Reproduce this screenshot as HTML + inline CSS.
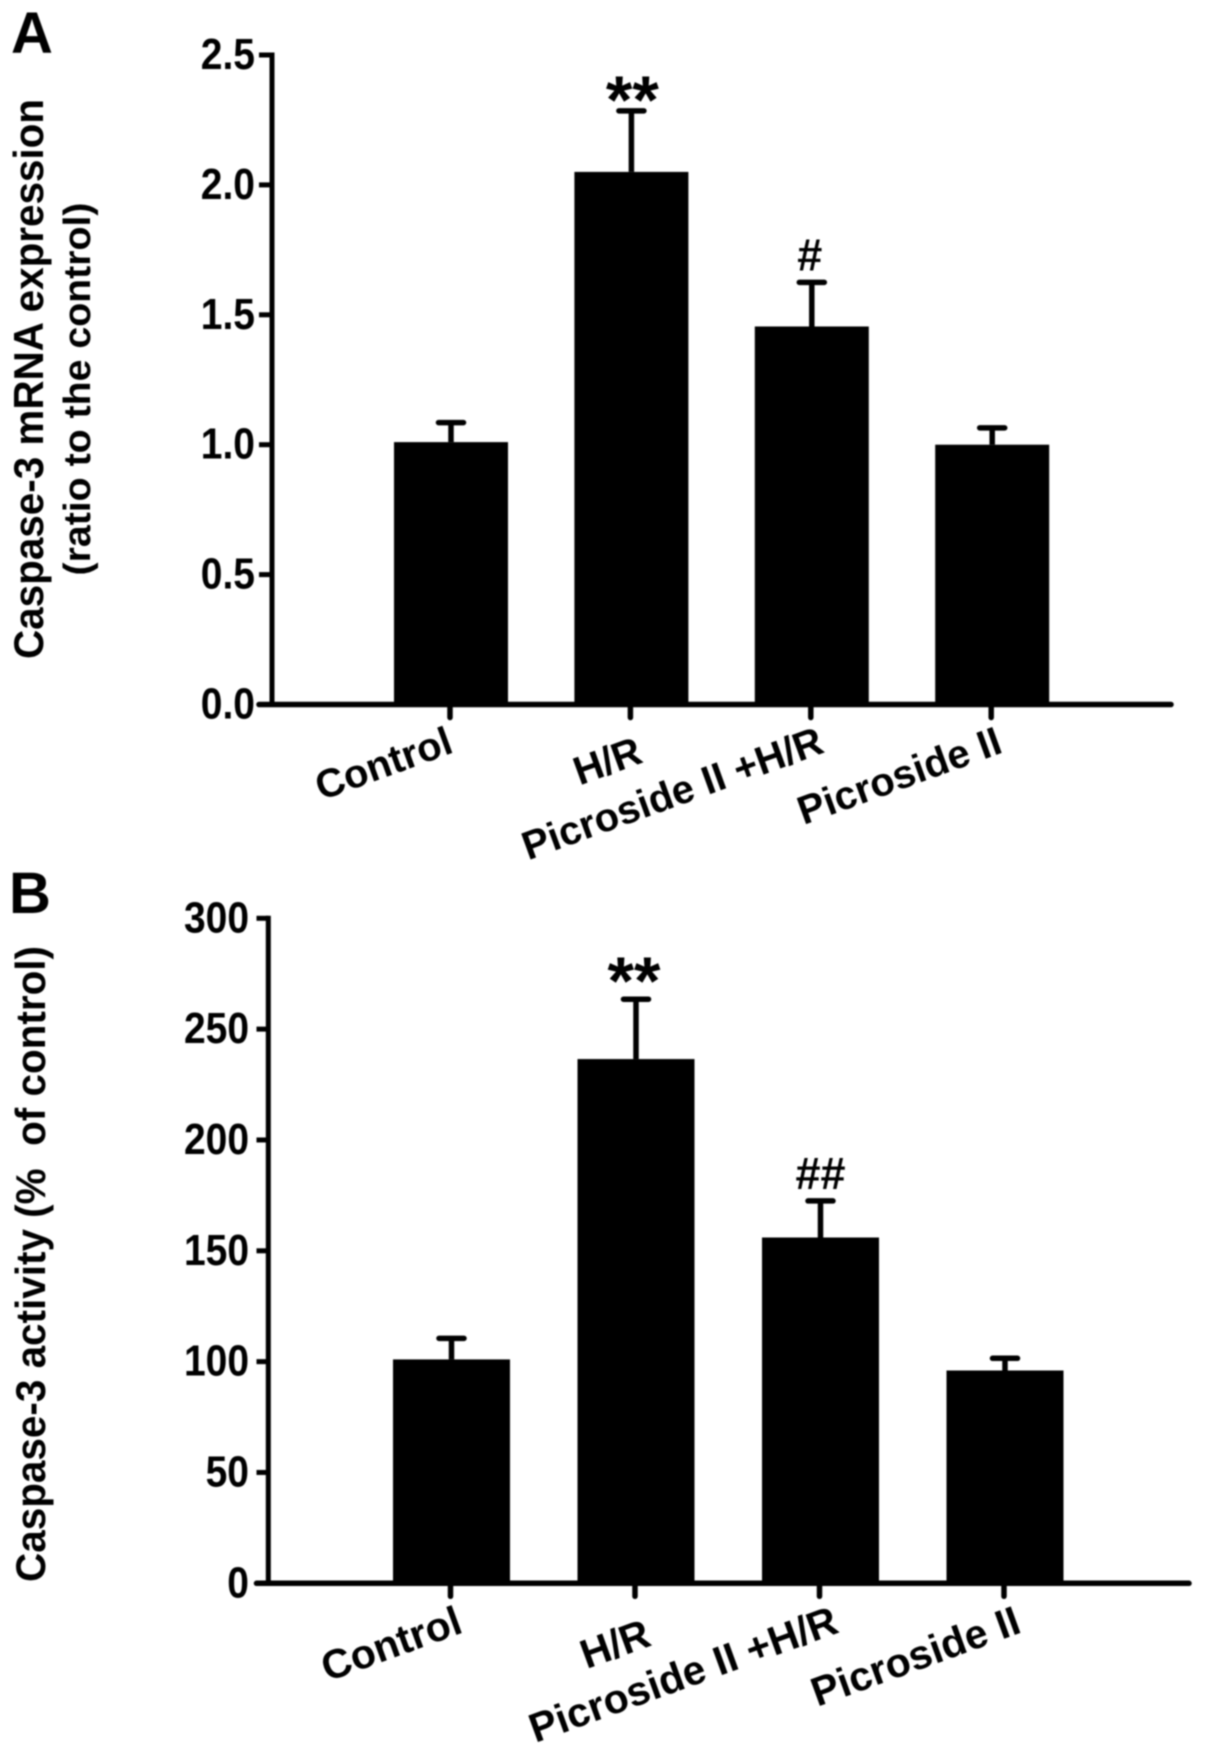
<!DOCTYPE html>
<html lang="en">
<head>
<meta charset="utf-8">
<title>Caspase-3 expression and activity</title>
<style>
html,body{margin:0;padding:0;background:#fff;}
#figure{display:block;width:1205px;height:1754px;background:#fff;filter:blur(0.7px);}
text{font-family:"Liberation Sans",Arial,sans-serif;font-weight:700;fill:#000;}
</style>
</head>
<body>
<svg id="figure" xmlns="http://www.w3.org/2000/svg" width="1205" height="1754" viewBox="0 0 1205 1754">
  <text x="11" y="53" font-size="58">A</text>
  <text x="9" y="913" font-size="58">B</text>
  <text transform="translate(43,379) rotate(-90)" text-anchor="middle" font-size="42" textLength="560" lengthAdjust="spacingAndGlyphs">Caspase-3 mRNA expression</text>
  <text transform="translate(90,389) rotate(-90)" text-anchor="middle" font-size="38" textLength="373" lengthAdjust="spacingAndGlyphs">(ratio to the control)</text>
  <text transform="translate(45,1264) rotate(-90)" text-anchor="middle" font-size="42" textLength="636" lengthAdjust="spacingAndGlyphs" xml:space="preserve">Caspase-3 activity (%  of control)</text>
  <g id="panel-a"></g>
  <g id="panel-b"></g>
</svg>
<script>
const categoriesA = ['Control', 'H/R', 'Picroside II +H/R', 'Picroside II'];
const valuesA = [1.01, 2.05, 1.455, 1.0];
const errorTopsA = [1.085, 2.285, 1.625, 1.065];
const tickLabelsA = ['0.0', '0.5', '1.0', '1.5', '2.0', '2.5'];
const significanceA = ['', '**', '#', ''];

const categoriesB = ['Control', 'H/R', 'Picroside II +H/R', 'Picroside II'];
const valuesB = [101, 236.5, 156, 96];
const errorTopsB = [110.5, 263.5, 172.5, 101.5];
const tickLabelsB = ['0', '50', '100', '150', '200', '250', '300'];
const significanceB = ['', '**', '##', ''];

const SVGNS = 'http://www.w3.org/2000/svg';

function make(tag, parent, props) {
  const el = document.createElementNS(SVGNS, tag);
  for (const k in props) el.setAttribute(k, props[k]);
  parent.appendChild(el);
  return el;
}

function drawPanel(cfg) {
  const root = document.getElementById(cfg.id);
  const maxTick = Number(cfg.ticks[cfg.ticks.length - 1]);
  const yScale = v => cfg.y0 - (v / maxTick) * (cfg.y0 - cfg.yTop);
  const xScale = i => cfg.x0 + cfg.step * i;

  cfg.values.forEach((v, i) => {
    const bar = make('rect', root, {
      x: xScale(i) - cfg.barWidth / 2, y: yScale(v),
      width: cfg.barWidth, height: cfg.y0 - yScale(v), fill: '#000'
    });
    
    

    const stem = make('line', root, {
      x1: xScale(i), x2: xScale(i), y1: yScale(v), y2: yScale(cfg.errors[i]),
      stroke: '#000', 'stroke-width': 5.5
    });
    
    

    const cap = make('line', root, {
      x1: xScale(i) - 12.5, x2: xScale(i) + 12.5, y1: yScale(cfg.errors[i]), y2: yScale(cfg.errors[i]),
      stroke: '#000', 'stroke-width': 5.5, 'stroke-linecap': 'round'
    });
    
    

    const sig = cfg.significance[i];
    if (sig) {
      const star = sig[0] === '*';
      const mark = make('text', root, {
        x: xScale(i) + (star ? cfg.starDx : cfg.hashDx),
        y: yScale(cfg.errors[i]) + (star ? cfg.starDy : -12),
        'text-anchor': 'middle',
        'font-size': star ? 68 : 45
      });
      mark.textContent = sig;
      
      
    }

    const tick = make('line', root, {
      x1: xScale(i) - 1, x2: xScale(i) - 1, y1: cfg.y0, y2: cfg.y0 + 13,
      stroke: '#000', 'stroke-width': 5.5, 'stroke-linecap': 'round'
    });
    
    

    const lx = xScale(i) + cfg.labelDx[i];
    const ly = cfg.labelY + cfg.labelDy[i];
    const label = make('text', root, {
      transform: 'translate(' + lx + ',' + ly + ') rotate(-20)',
      'text-anchor': 'end',
      'font-size': cfg.labelSize
    });
    label.textContent = cfg.categories[i];
    
    
  });

  const yAxis = make('line', root, {
    x1: cfg.axisX, x2: cfg.axisX, y1: yScale(maxTick) - 2.5, y2: cfg.y0,
    stroke: '#000', 'stroke-width': 5
  });
  
  

  const xAxis = make('line', root, {
    x1: cfg.tickLeft, x2: cfg.axisRight, y1: cfg.y0, y2: cfg.y0,
    stroke: '#000', 'stroke-width': 5.5, 'stroke-linecap': 'round'
  });
  
  

  cfg.ticks.forEach(t => {
    const yy = yScale(Number(t));
    const tick = make('line', root, {
      x1: cfg.tickLeft, x2: cfg.axisX, y1: yy, y2: yy,
      stroke: '#000', 'stroke-width': 5
    });
    
    

    const text = make('text', root, {
      transform: 'translate(' + cfg.tickTextX + ',' + (yy + cfg.tickTextDy) + ') scale(1,1.12)',
      'text-anchor': 'end',
      'font-size': cfg.tickSize
    });
    text.textContent = t;
    
    
  });
}

drawPanel({
  id: 'panel-a', categories: categoriesA, values: valuesA, errors: errorTopsA,
  ticks: tickLabelsA, significance: significanceA,
  y0: 704.5, yTop: 55, x0: 451, step: 180.4, barWidth: 114,
  axisX: 272, tickLeft: 259, axisRight: 1171,
  tickTextX: 255, tickTextDy: 14, tickSize: 39,
  labelSize: 40, labelY: 752,
  labelDx: [4, 13, 14, 12], labelDy: [0, 10, 0, 0],
  starDy: 12, starDx: 1, hashDx: -2
});

drawPanel({
  id: 'panel-b', categories: categoriesB, values: valuesB, errors: errorTopsB,
  ticks: tickLabelsB, significance: significanceB,
  y0: 1583.3, yTop: 918.3, x0: 451.5, step: 184.5, barWidth: 117,
  axisX: 268.3, tickLeft: 256.5, axisRight: 1189,
  tickTextX: 249, tickTextDy: 14, tickSize: 39,
  labelSize: 41, labelY: 1632,
  labelDx: [13, 17, 20, 18], labelDy: [0, 13, 0, 0],
  starDy: 5, starDx: -2, hashDx: 0
});
</script>
</body>
</html>
